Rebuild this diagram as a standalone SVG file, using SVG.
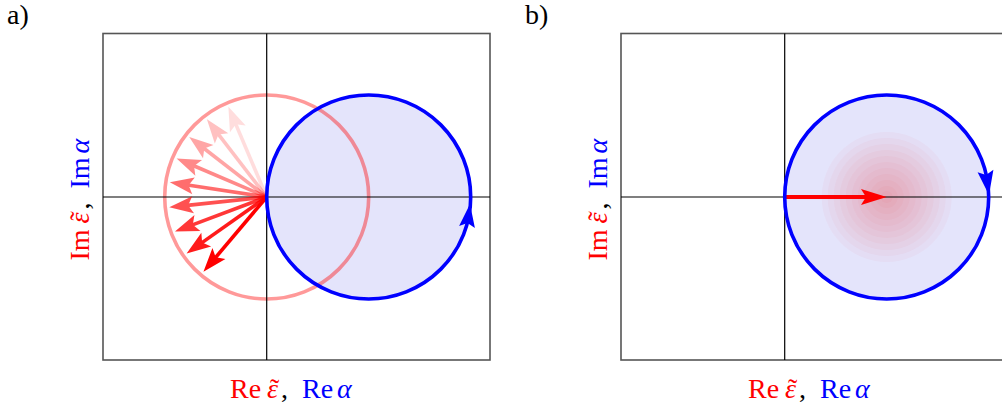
<svg xmlns="http://www.w3.org/2000/svg" xmlns:xlink="http://www.w3.org/1999/xlink" width="1002" height="410" viewBox="0 0 1002 410">
<style>
.frame{fill:none;stroke:#555;stroke-width:1.6}
.axis{stroke:#000;stroke-width:1.2}
.bfill{fill:#e4e4fb}
.bcirc{fill:none;stroke:#0000ff;stroke-width:3.6}
.bhead{fill:#0000ff}
.lbl{font-family:"Liberation Serif","DejaVu Serif","Noto Serif",serif;font-size:28px}
.r{fill:#ff0000}
.b{fill:#0000ff}
.k{fill:#000}
.it{font-style:italic}
</style>
<defs>
<g id="ra">
<line x1="0" y1="0" x2="80" y2="0" stroke="#ff0000" stroke-width="3.6"/>
<path d="M98,0 L74,-8.5 L79,0 L74,8.5 Z" fill="#ff0000"/>
</g>
</defs>
<rect width="1002" height="410" fill="#fff"/>

<g id="panel-a">
<text class="lbl k" x="7" y="24" font-family="Liberation Serif, DejaVu Serif, serif">a)</text>
<rect class="frame" x="103" y="33.5" width="387" height="326.5"/>
<circle id="a-disc" class="bfill" cx="368.7" cy="197" r="102"/>
<circle id="a-pink" cx="266.7" cy="197" r="102" fill="none" stroke="#ff0000" stroke-opacity="0.4" stroke-width="3.6"/>
<line class="axis" x1="103" y1="197" x2="490" y2="197"/>
<line class="axis" x1="266.7" y1="33.5" x2="266.7" y2="360" stroke="#444"/>
<g id="a-arrows">
<use xlink:href="#ra" transform="translate(266.7,197) rotate(-113)" opacity="0.13"/>
<use xlink:href="#ra" transform="translate(266.7,197) rotate(-127.6)" opacity="0.24"/>
<use xlink:href="#ra" transform="translate(266.7,197) rotate(-142.2)" opacity="0.35"/>
<use xlink:href="#ra" transform="translate(266.7,197) rotate(-156.8)" opacity="0.46"/>
<use xlink:href="#ra" transform="translate(266.7,197) rotate(-171.4)" opacity="0.57"/>
<use xlink:href="#ra" transform="translate(266.7,197) rotate(-186)" opacity="0.68"/>
<use xlink:href="#ra" transform="translate(266.7,197) rotate(-200.6)" opacity="0.78"/>
<use xlink:href="#ra" transform="translate(266.7,197) rotate(-215.2)" opacity="0.89"/>
<use xlink:href="#ra" transform="translate(266.7,197) rotate(-229.8)" opacity="1"/>
</g>
<circle id="a-blue" class="bcirc" cx="368.7" cy="197" r="102"/>
<path class="bhead" d="M470,204 L474.9,228 L467.5,223 L459.1,226 Z"/>
<text class="lbl" x="230" y="398" font-family="Liberation Serif, DejaVu Serif, serif"><tspan class="r">Re</tspan><tspan class="r it" x="267">ε</tspan><tspan class="r" x="270">˜</tspan><tspan class="k" x="281">,</tspan><tspan class="b" x="302">Re</tspan><tspan class="b it" x="337">α</tspan></text>
<text class="lbl" transform="translate(89,197) rotate(-90)" font-family="Liberation Serif, DejaVu Serif, serif"><tspan class="r" x="-63.5">Im</tspan><tspan class="r it" x="-26.5">ε</tspan><tspan class="r" x="-23.5">˜</tspan><tspan class="k" x="-12.5">,</tspan><tspan class="b" x="8.5">Im</tspan><tspan class="b it" x="43.5">α</tspan></text>
</g>

<g id="panel-b">
<text class="lbl k" x="525" y="24" font-family="Liberation Serif, DejaVu Serif, serif">b)</text>
<rect class="frame" x="621" y="33.5" width="400" height="326.5"/>
<circle id="b-disc" class="bfill" cx="886.7" cy="197" r="102"/>
<g id="b-glow" fill="#ff2020" fill-opacity="0.03">
<circle cx="886.7" cy="197" r="65"/>
<circle cx="886.7" cy="197" r="59"/>
<circle cx="886.7" cy="197" r="53"/>
<circle cx="886.7" cy="197" r="47"/>
<circle cx="886.7" cy="197" r="41"/>
<circle cx="886.7" cy="197" r="35"/>
<circle cx="886.7" cy="197" r="29"/>
<circle cx="886.7" cy="197" r="23"/>
<circle cx="886.7" cy="197" r="17"/>
<circle cx="886.7" cy="197" r="11"/>
<circle cx="886.7" cy="197" r="6"/>
</g>
<line class="axis" x1="621" y1="197" x2="1002" y2="197"/>
<line class="axis" x1="784.7" y1="33.5" x2="784.7" y2="360" stroke="#444"/>
<g id="b-arrow">
<line x1="784.7" y1="197" x2="866" y2="197" stroke="#ff0000" stroke-width="3.8"/>
<path d="M886.7,197 L861,189 L866,197 L861,205 Z" fill="#ff0000"/>
</g>
<circle id="b-blue" class="bcirc" cx="886.7" cy="197" r="102"/>
<path class="bhead" d="M989,195 L977.6,172.15 L986.1,175 L993.4,169.85 Z"/>
<text class="lbl" x="748" y="398" font-family="Liberation Serif, DejaVu Serif, serif"><tspan class="r">Re</tspan><tspan class="r it" x="785">ε</tspan><tspan class="r" x="788">˜</tspan><tspan class="k" x="799">,</tspan><tspan class="b" x="820">Re</tspan><tspan class="b it" x="855">α</tspan></text>
<text class="lbl" transform="translate(607,197) rotate(-90)" font-family="Liberation Serif, DejaVu Serif, serif"><tspan class="r" x="-63.5">Im</tspan><tspan class="r it" x="-26.5">ε</tspan><tspan class="r" x="-23.5">˜</tspan><tspan class="k" x="-12.5">,</tspan><tspan class="b" x="8.5">Im</tspan><tspan class="b it" x="43.5">α</tspan></text>
</g>
</svg>
